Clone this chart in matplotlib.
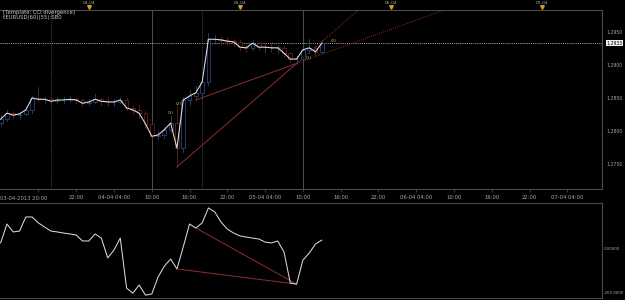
import matplotlib
matplotlib.use('Agg')
import matplotlib.pyplot as plt
from matplotlib.patches import Rectangle
from matplotlib.transforms import blended_transform_factory

# ---------------- data ----------------
bars = list(range(52))
opens = [1.2812, 1.2818, 1.2827, 1.2824, 1.2826, 1.2832, 1.2850, 1.2848, 1.2848, 1.2845,
         1.2847, 1.2847, 1.2848, 1.2847, 1.2842, 1.2844, 1.2848, 1.2845, 1.2844, 1.2844,
         1.2847, 1.2835, 1.2832, 1.2827, 1.2811, 1.2792, 1.2794, 1.2802, 1.2812, 1.2774,
         1.2847, 1.2853, 1.2858, 1.2874, 1.2939, 1.2939, 1.2938, 1.2936, 1.2935, 1.2927,
         1.2926, 1.2933, 1.2927, 1.2927, 1.2926, 1.2926, 1.2918, 1.2909, 1.2909, 1.2923,
         1.2926, 1.2920]
highs = [1.2824, 1.2832, 1.2830, 1.2829, 1.2836, 1.2853, 1.2866, 1.2852, 1.2850, 1.2852,
         1.2851, 1.2853, 1.2850, 1.2849, 1.2848, 1.2856, 1.2850, 1.2852, 1.2848, 1.2852,
         1.2850, 1.2838, 1.2840, 1.2830, 1.2815, 1.2800, 1.2806, 1.2822, 1.2838, 1.2852,
         1.2862, 1.2868, 1.2880, 1.2948, 1.2946, 1.2942, 1.2942, 1.2940, 1.2938, 1.2930,
         1.2938, 1.2935, 1.2932, 1.2934, 1.2930, 1.2928, 1.2920, 1.2914, 1.2930, 1.2940,
         1.2928, 1.2938]
lows = [1.2808, 1.2815, 1.2820, 1.2818, 1.2824, 1.2828, 1.2845, 1.2843, 1.2840, 1.2842,
        1.2843, 1.2844, 1.2842, 1.2838, 1.2840, 1.2842, 1.2840, 1.2838, 1.2838, 1.2842,
        1.2832, 1.2826, 1.2820, 1.2805, 1.2786, 1.2788, 1.2790, 1.2798, 1.2746, 1.2768,
        1.2840, 1.2847, 1.2850, 1.2870, 1.2932, 1.2932, 1.2930, 1.2928, 1.2922, 1.2920,
        1.2922, 1.2922, 1.2920, 1.2920, 1.2918, 1.2912, 1.2904, 1.2902, 1.2905, 1.2918,
        1.2915, 1.2918]
closes = [1.2818, 1.2827, 1.2824, 1.2826, 1.2832, 1.2850, 1.2848, 1.2848, 1.2845, 1.2847,
          1.2847, 1.2848, 1.2847, 1.2842, 1.2844, 1.2848, 1.2845, 1.2844, 1.2844, 1.2847,
          1.2835, 1.2832, 1.2827, 1.2811, 1.2792, 1.2794, 1.2802, 1.2812, 1.2774, 1.2847,
          1.2853, 1.2858, 1.2874, 1.2939, 1.2939, 1.2938, 1.2936, 1.2935, 1.2927, 1.2926,
          1.2933, 1.2927, 1.2927, 1.2926, 1.2926, 1.2918, 1.2909, 1.2909, 1.2923, 1.2926,
          1.2920, 1.2933]
cci = [23, 109, 73, 77, 141, 141, 114, 95, 77, 73,
       68, 64, 59, 32, 32, 64, 45, -45, -9, 45,
       -182, -205, -168, -214, -209, -132, -82, -50, -95, 5,
       109, 91, 114, 182, 164, 118, 86, 68, 55, 50,
       45, 41, 27, 23, 32, -18, -159, -164, -55, -23,
       18, 36]
current_price = 1.2933

price_ticks = [1.2750, 1.2800, 1.2850, 1.2900, 1.2950]
cci_ticks = [0, -200]
cci_tick_labels = ['0.00000', '-200.0000']

time_tick_bars = [6, 12, 18, 24, 30, 36, 42, 48, 54, 60, 66, 72, 78, 84, 90]
time_tick_labels = ['', '22:00', '04-04 04:00', '10:00', '16:00', '22:00', '05-04 04:00',
                    '10:00', '16:00', '22:00', '06-04 04:00', '10:00', '16:00', '22:00',
                    '07-04 04:00']
first_label = '03-04-2013 20:00'

day_marker_bars = [14, 38, 62, 86]
day_marker_labels = ['04-04', '05-04', '06-04', '07-04']

# divergence trend lines: (bar, price) anchors
trend1 = [(28, 1.27455), (47, 1.29023)]
trend2 = [(31, 1.2847), (47, 1.29023)]
cci_div1 = (28, 47)
cci_div2 = (31, 47)
labels_pts = [(27, 1.28273, '(1)'), (28.2, 1.28409, '(2)'),
              (49, 1.29106, '(1)'), (52.9, 1.29364, '(2)')]

# ---------------- style ----------------
W, H = 625, 300
BG = 'black'
GRID = '#5a5a5a'
TXT = '#a8a8a8'
UP = '#2e4a80'
DN = '#702424'
TREND = '#8e2e2e'
FS = 3.8
FSR = 3.3

fig = plt.figure(figsize=(6.25, 3.0), dpi=100, facecolor=BG)


def ax_rect(x0, y0, x1, y1):
    return [x0 / W, 1 - y1 / H, (x1 - x0) / W, (y1 - y0) / H]


ax = fig.add_axes(ax_rect(0, 10, 602, 189), facecolor=BG)
ax2 = fig.add_axes(ax_rect(0, 203, 602, 298), facecolor=BG)

XLIM = (-0.1, 95.5)
ax.set_xlim(*XLIM)
ax2.set_xlim(*XLIM)
ymin, ymax = 1.27121, 1.29833
ax.set_ylim(ymin, ymax)
ax2.set_ylim(-227, 204.5)

for a in (ax, ax2):
    for s in ('top', 'right', 'bottom'):
        a.spines[s].set_color('#4a4a4a')
        a.spines[s].set_linewidth(0.8)
    a.spines['left'].set_visible(False)

# vertical separators
for b in (24, 48):
    ax.axvline(b, color=GRID, lw=0.6, zorder=1)
for b in (8, 32):
    ax.axvline(b, color=GRID, lw=0.6, ls=(0, (1, 1.5)), zorder=1)

# current price dotted line
ax.axhline(current_price, color='#b0b0b0', lw=0.7, ls=(0, (1, 1.2)), zorder=1)

# candles
for i, o, h, l, c in zip(bars, opens, highs, lows, closes):
    col = UP if c >= o else DN
    lo, hi = min(o, c), max(o, c)
    ax.plot([i, i], [hi, h], color=col, lw=0.55, zorder=2)
    ax.plot([i, i], [l, lo], color=col, lw=0.55, zorder=2)
    ax.add_patch(Rectangle((i - 0.3, lo), 0.6, max(hi - lo, 0.00005),
                           facecolor=BG, edgecolor=col, lw=0.55, zorder=2))

# close line
ax.plot(bars, closes, color='#e2e2e2', lw=0.75, zorder=4)

# trend lines (solid between anchors, dotted extension)
for (x0, y0), (x1, y1) in (trend1, trend2):
    ax.plot([x0, x1], [y0, y1], color=TREND, lw=0.7, zorder=3)
    slope = (y1 - y0) / (x1 - x0)
    xe = x1 + (ymax - y1) / slope
    ax.plot([x1, xe], [y1, ymax], color=TREND, lw=0.7, ls=(0, (1, 1.2)), zorder=3)

for x, y, t in labels_pts:
    ax.text(x, y, t, color='#d8c040', fontsize=3.2, ha='center', va='center', zorder=5)

# axis ticks
ax.set_xticks(time_tick_bars)
ax.set_xticklabels(time_tick_labels)
ax.tick_params(axis='x', direction='out', length=2, width=0.5, color='#555555',
               labelsize=FS, labelcolor=TXT, pad=2)
ax.yaxis.tick_right()
ax.set_yticks(price_ticks)
ax.set_yticklabels(['%.4f' % v for v in price_ticks])
ax.tick_params(axis='y', length=0, labelsize=FSR, labelcolor=TXT, pad=3.5)

ax2.set_xticks([])
ax2.yaxis.tick_right()
ax2.set_yticks(cci_ticks)
ax2.set_yticklabels(cci_tick_labels)
ax2.tick_params(axis='y', length=0, labelsize=2.9, labelcolor=TXT, pad=1.5)

fig.text(0.5 / W, 1 - 198 / H, first_label, color=TXT, fontsize=FS, ha='left', va='center')

# current price tag
ax.annotate('%.4f' % current_price, xy=(1.0, current_price),
            xycoords=blended_transform_factory(ax.transAxes, ax.transData),
            xytext=(3.2, 0), textcoords='offset points', ha='left', va='center',
            fontsize=FSR, color='black',
            bbox=dict(boxstyle='square,pad=0.15', fc='#f0f0f0', ec='none'),
            annotation_clip=False)

# day markers above chart
tr = blended_transform_factory(ax.transData, fig.transFigure)
for b, lab in zip(day_marker_bars, day_marker_labels):
    ax.plot([b], [1 - 7.2 / H], marker='v', ms=2.6, color='#c9a030', mec='#c9a030',
            transform=tr, clip_on=False)
    ax.text(b, 1 - 2.8 / H, lab, transform=tr, color=TXT, fontsize=3.2,
            ha='center', va='center', clip_on=False)

# title texts
fig.text(3 / W, 1 - 12.5 / H, '[Template: CCI divergence]', color='#c8c8c8',
         fontsize=FS, ha='left', va='center')
fig.text(3 / W, 1 - 17.5 / H, 'f:EURUSD(60)(55):SB0', color='#c8c8c8',
         fontsize=FS, ha='left', va='center')

# CCI panel
ax2.plot(bars, cci, color='#d8d8d8', lw=0.75, zorder=3)
for a_, b_ in (cci_div1, cci_div2):
    ax2.plot([a_, b_], [cci[a_], cci[b_]], color=TREND, lw=0.7, zorder=2)

fig.savefig('out.png', dpi=100, facecolor=BG)
